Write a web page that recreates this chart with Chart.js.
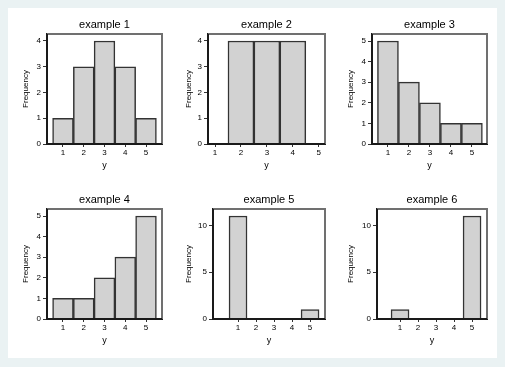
<!DOCTYPE html>
<html>
<head>
<meta charset="utf-8">
<script src="https://cdn.jsdelivr.net/npm/chart.js@4.4.1/dist/chart.umd.min.js"></script>
<style>
  html, body { margin: 0; padding: 0; }
  body { width: 505px; height: 367px; background: #eaf2f3; position: relative; overflow: hidden; }
  #panel { position: absolute; left: 8px; top: 8px; width: 489px; height: 350px; background: #fff; }
  canvas { position: absolute; }
</style>
</head>
<body>
<div id="panel"></div>
<script>
// data
const bins = [1, 2, 3, 4, 5];
const titles = ['example 1', 'example 2', 'example 3', 'example 4', 'example 5', 'example 6'];
const freq1 = [1, 3, 4, 3, 1];
const freq2 = [0, 4, 4, 4, 0];
const freq3 = [5, 3, 2, 1, 1];
const freq4 = [1, 1, 2, 3, 5];
const freq5 = [11, 0, 0, 0, 1];
const freq6 = [1, 0, 0, 0, 11];
const xTicks = [1, 2, 3, 4, 5];
const yTicksA = [0, 1, 2, 3, 4];
const yTicksB = [0, 1, 2, 3, 4, 5];
const yTicksC = [0, 5, 10];

const FONT = "'Liberation Sans', Arial, Helvetica, sans-serif";

// where each little chart sits on the page
const panels = [
  { freq: freq1, yTicks: yTicksA, left: 17,  top: 14,  yW: 30, plotW: 115, xMin: 0.23,  xMax: 5.77, yMax: 4.27 },
  { freq: freq2, yTicks: yTicksA, left: 180, top: 14,  yW: 28, plotW: 117, xMin: 0.73,  xMax: 5.24, yMax: 4.27 },
  { freq: freq3, yTicks: yTicksB, left: 342, top: 14,  yW: 30, plotW: 115, xMin: 0.24,  xMax: 5.72, yMax: 5.34 },
  { freq: freq4, yTicks: yTicksB, left: 17,  top: 189, yW: 30, plotW: 115, xMin: 0.23,  xMax: 5.77, yMax: 5.34 },
  { freq: freq5, yTicks: yTicksC, left: 180, top: 189, yW: 33, plotW: 112, xMin: -0.39, xMax: 5.83, yMax: 11.75 },
  { freq: freq6, yTicks: yTicksC, left: 342, top: 189, yW: 35, plotW: 110, xMin: -0.28, xMax: 5.83, yMax: 11.75 }
];

// top and right sides of the plot box, plus the axes on top of the bars
const framePlugin = {
  id: 'frame',
  afterDatasetsDraw(chart) {
    const { ctx, chartArea: a } = chart;
    ctx.save();
    ctx.lineWidth = 2;
    ctx.strokeStyle = '#707070';
    ctx.beginPath();
    ctx.moveTo(a.left, a.top);
    ctx.lineTo(a.right, a.top);
    ctx.lineTo(a.right, a.bottom);
    ctx.stroke();
    ctx.strokeStyle = '#1a1a1a';
    ctx.beginPath();
    ctx.moveTo(a.left, a.top);
    ctx.lineTo(a.left, a.bottom);
    ctx.lineTo(a.right, a.bottom);
    ctx.stroke();
    ctx.restore();
  }
};

panels.forEach((p, i) => {
  const canvas = document.createElement('canvas');
  canvas.width = p.yW + p.plotW + 3;
  canvas.height = 160;
  canvas.style.left = p.left + 'px';
  canvas.style.top = p.top + 'px';
  document.body.appendChild(canvas);

  new Chart(canvas.getContext('2d'), {
    type: 'bar',
    data: {
      datasets: [{
        data: bins.map((b, j) => ({ x: b, y: p.freq[j] })),
        backgroundColor: '#d2d2d2',
        borderColor: '#333',
        borderWidth: 1.5,
        barPercentage: 1,
        categoryPercentage: 1
      }]
    },
    options: {
      responsive: false,
      animation: false,
      layout: { padding: { left: 0, top: 0, bottom: 0, right: 3 } },
      scales: {
        x: {
          type: 'linear',
          offset: false,
          min: p.xMin,
          max: p.xMax,
          afterBuildTicks: s => { s.ticks = xTicks.map(v => ({ value: v })); },
          afterFit: s => { s.height = 30; },
          grid: { offset: false, drawOnChartArea: false, drawTicks: true, tickLength: 3, color: '#333', lineWidth: 1 },
          border: { display: true, color: '#1a1a1a', width: 2 },
          ticks: { font: { family: FONT, size: 8 }, color: '#000', padding: 1, maxRotation: 0, autoSkip: false },
          title: { display: true, text: 'y', font: { family: FONT, size: 9 }, color: '#000', padding: { top: 0, bottom: 2.6 } }
        },
        y: {
          min: 0,
          max: p.yMax,
          afterBuildTicks: s => { s.ticks = p.yTicks.map(v => ({ value: v })); },
          afterFit: s => { s.width = p.yW; },
          grid: { drawOnChartArea: false, drawTicks: true, tickLength: 4, color: '#333', lineWidth: 1 },
          border: { display: true, color: '#1a1a1a', width: 2 },
          ticks: { font: { family: FONT, size: 8 }, color: '#000', padding: 2, autoSkip: false },
          title: { display: true, text: 'Frequency', font: { family: FONT, size: 8 }, color: '#000', padding: { top: 4, bottom: 0 } }
        }
      },
      plugins: {
        legend: { display: false },
        tooltip: { enabled: false },
        title: {
          display: true,
          text: titles[i],
          fullSize: false,
          color: '#000',
          font: { family: FONT, size: 11, weight: 'normal' },
          padding: { top: 4, bottom: 2.8 }
        }
      }
    },
    plugins: [framePlugin]
  });
});
</script>
</body>
</html>
